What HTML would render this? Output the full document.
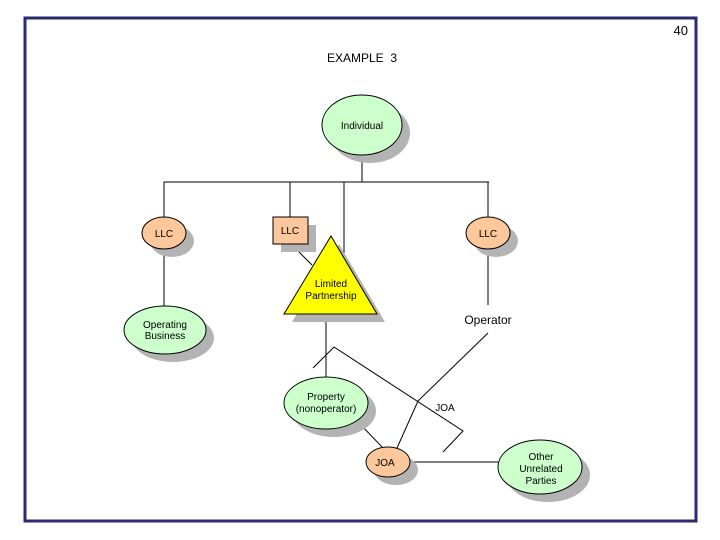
<!DOCTYPE html>
<html><head><style>body{margin:0;background:#fff}svg{display:block}</style></head><body>
<svg width="720" height="540" xmlns="http://www.w3.org/2000/svg" font-family="Liberation Sans, sans-serif">
<rect x="25" y="18" width="671" height="503" fill="none" stroke="#2a2a6e" stroke-width="3"/>
<text x="688" y="35" font-size="13" text-anchor="end">40</text>
<text x="362" y="62" font-size="12" text-anchor="middle">EXAMPLE&#160;&#160;3</text>
<g stroke="#000" stroke-width="1" fill="none">
<line x1="362" y1="155" x2="362" y2="182"/>
<line x1="164" y1="182" x2="489" y2="182"/>
<line x1="164" y1="182" x2="164" y2="218"/>
<line x1="290" y1="182" x2="290" y2="218"/>
<line x1="344" y1="182" x2="344" y2="254"/>
<line x1="488" y1="182" x2="488" y2="218"/>
<line x1="164" y1="248" x2="164" y2="307"/>
<line x1="488" y1="248" x2="488" y2="305"/>
<line x1="291" y1="244" x2="312" y2="265"/>
<line x1="326" y1="314" x2="326" y2="377"/>
<polyline points="488,333 418,401 397,448"/>
<polyline points="313,368 334,347 463,431 443,452"/>
<line x1="359" y1="423" x2="383" y2="448"/>
<line x1="410" y1="462" x2="498" y2="462"/>
</g>
<g fill="#b3b3b3">
<ellipse cx="370" cy="133" rx="40" ry="30"/>
<ellipse cx="172" cy="241" rx="22" ry="16"/>
<rect x="281" y="225" width="35" height="27"/>
<ellipse cx="496" cy="241" rx="22" ry="16"/>
<polygon points="339,244 385,322 292,322"/>
<ellipse cx="173" cy="338" rx="41" ry="24"/>
<ellipse cx="334" cy="411" rx="42" ry="26"/>
<ellipse cx="396" cy="470" rx="22" ry="15"/>
<ellipse cx="548" cy="475" rx="42" ry="27"/>
</g>
<g stroke="#000" stroke-width="1">
<ellipse cx="362" cy="125" rx="40" ry="30" fill="#ccffcc"/>
<ellipse cx="164" cy="233" rx="22" ry="16" fill="#fcc89b"/>
<rect x="273" y="217" width="35" height="27" fill="#fcc89b"/>
<ellipse cx="488" cy="233" rx="22" ry="16" fill="#fcc89b"/>
<polygon points="331,236 377,314 284,314" fill="#ffff00"/>
<ellipse cx="165" cy="330" rx="41" ry="24" fill="#ccffcc"/>
<ellipse cx="326" cy="403" rx="42" ry="26" fill="#ccffcc"/>
<ellipse cx="388" cy="462" rx="22" ry="15" fill="#fcc89b"/>
<ellipse cx="540" cy="467" rx="42" ry="27" fill="#ccffcc"/>
</g>
<g font-size="10" text-anchor="middle" fill="#000">
<text x="362" y="129">Individual</text>
<text x="164" y="237">LLC</text>
<text x="290" y="234">LLC</text>
<text x="488" y="237">LLC</text>
<text x="331" y="287">Limited</text>
<text x="331" y="299">Partnership</text>
<text x="165" y="328">Operating</text>
<text x="165" y="339">Business</text>
<text x="488" y="324" font-size="12">Operator</text>
<text x="326" y="400">Property</text>
<text x="326" y="412">(nonoperator)</text>
<text x="445" y="411">JOA</text>
<text x="385" y="466">JOA</text>
<text x="541" y="460">Other</text>
<text x="541" y="472">Unrelated</text>
<text x="541" y="484">Parties</text>
</g>
</svg>
</body></html>
